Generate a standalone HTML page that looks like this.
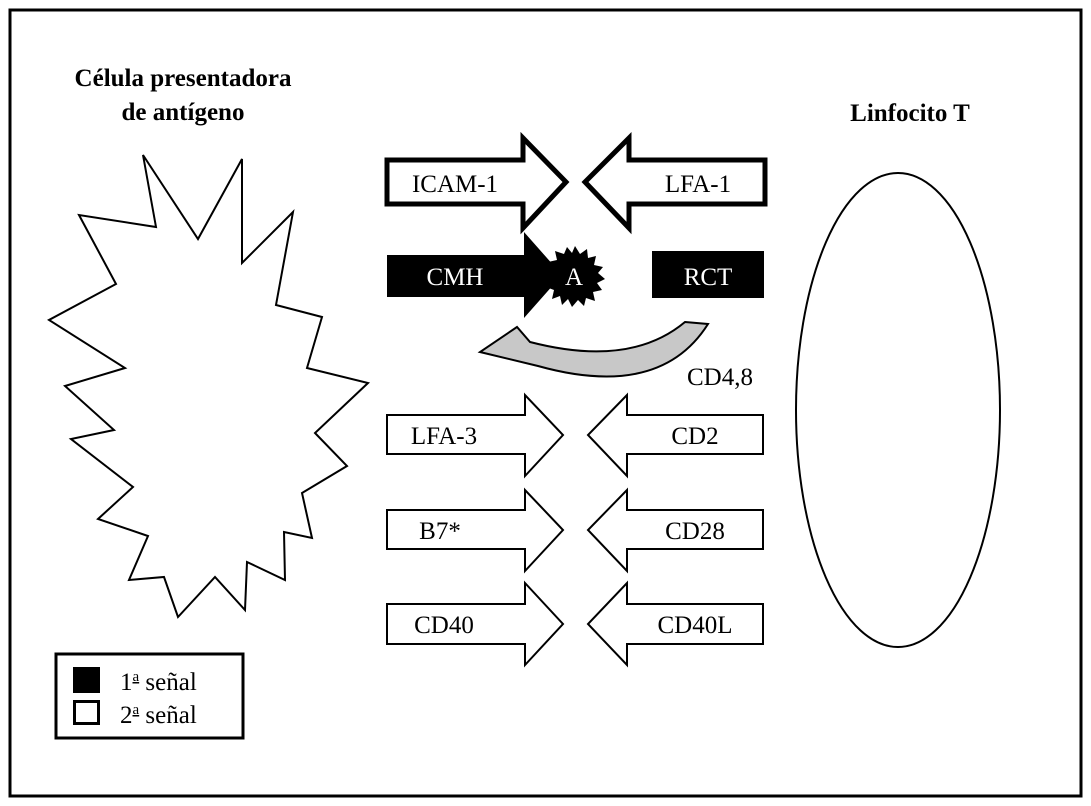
<!DOCTYPE html>
<html><head><meta charset="utf-8"><style>
html,body{margin:0;padding:0;background:#fff;}
svg{display:block;}
text{font-family:"Liberation Serif",serif;}
</style></head><body>
<svg width="1091" height="806" viewBox="0 0 1091 806" xmlns="http://www.w3.org/2000/svg">
<rect x="10" y="10" width="1071" height="786" fill="#fff" stroke="#000" stroke-width="3"/>
<text x="183" y="86" font-size="25" font-weight="bold" text-anchor="middle">Célula presentadora</text>
<text x="183" y="120" font-size="25" font-weight="bold" text-anchor="middle">de antígeno</text>
<text x="910" y="121" font-size="25" font-weight="bold" text-anchor="middle">Linfocito T</text>
<polygon fill="#fff" stroke="#000" stroke-width="2" points="143,155 156,227 79,215 116,284 49,320 125,368 65,386 114,430 71,439 133,487 98,519 148,536 129,580 164,577 178,617 215,577 245,610 247,562 285,580 284,532 312,538 302,493 347,466 315,433 368,383 307,368 322,317 276,305 293,212 242,263 242,159 198,239"/>
<ellipse cx="898" cy="410" rx="102" ry="237" fill="#fff" stroke="#000" stroke-width="2"/>
<!-- ICAM-1 -->
<polygon fill="#fff" stroke="#000" stroke-width="5" points="387,160 523,160 523,138 566,182 523,228 523,204 387,204"/>
<text x="455" y="192" font-size="25" text-anchor="middle">ICAM-1</text>
<polygon fill="#fff" stroke="#000" stroke-width="5" points="765,160 629,160 629,138 585,182 629,228 629,204 765,204"/>
<text x="698" y="192" font-size="25" text-anchor="middle">LFA-1</text>
<!-- CMH -->
<polygon fill="#000" points="387,255 524,255 524,232 562,275 524,318 524,297 387,297"/>
<text x="455" y="285" font-size="25" fill="#fff" text-anchor="middle">CMH</text>
<g transform="translate(575,276)">
<polygon fill="#000" id="st" points="0,-30 5,-22 12,-27 13,-18 21,-20 19,-11 28,-9 23,-3 30,3 22,7 27,14 18,16 20,25 11,22 9,30 3,24 -3,31 -7,23 -13,29 -15,20 -23,23 -21,14 -29,11 -23,4 -30,-2 -22,-7 -27,-14 -18,-16 -20,-25 -11,-22 -8,-29 -3,-23"/>
</g>
<text x="574" y="285" font-size="25" fill="#fff" text-anchor="middle">A</text>
<rect x="652" y="251" width="112" height="47" fill="#000"/>
<text x="708" y="285" font-size="25" fill="#fff" text-anchor="middle">RCT</text>
<!-- gray curved arrow -->
<path d="M685,322 L708,324 Q660,400 538,366 L480,352 L517,327 L530,342 Q630,368 685,322 Z" fill="#c8c8c8" stroke="#000" stroke-width="2"/>
<text x="720" y="385" font-size="25" text-anchor="middle">CD4,8</text>
<!-- second signal arrows -->
<g fill="#fff" stroke="#000" stroke-width="2">
<polygon points="387,415 525,415 525,395 563,435 525,476 525,454 387,454"/>
<polygon points="763,415 627,415 627,395 588,435 627,476 627,454 763,454"/>
<polygon points="387,510 525,510 525,490 563,530 525,571 525,549 387,549"/>
<polygon points="763,510 627,510 627,490 588,530 627,571 627,549 763,549"/>
<polygon points="387,604 525,604 525,583 563,624 525,665 525,644 387,644"/>
<polygon points="763,604 627,604 627,583 588,624 627,665 627,644 763,644"/>
</g>
<g font-size="25" text-anchor="middle">
<text x="444" y="444">LFA-3</text>
<text x="695" y="444">CD2</text>
<text x="440" y="539">B7*</text>
<text x="695" y="539">CD28</text>
<text x="444" y="633">CD40</text>
<text x="695" y="633">CD40L</text>
</g>
<!-- legend -->
<rect x="56" y="654" width="187" height="84" fill="#fff" stroke="#000" stroke-width="3"/>
<rect x="73" y="667" width="27" height="26" fill="#000"/>
<rect x="74.5" y="701.5" width="24" height="22" fill="#fff" stroke="#000" stroke-width="3"/>
<text x="120" y="690" font-size="25">1<tspan font-size="15" dy="-9" text-decoration="underline">a</tspan><tspan dy="9"> señal</tspan></text>
<text x="120" y="723" font-size="25">2<tspan font-size="15" dy="-9" text-decoration="underline">a</tspan><tspan dy="9"> señal</tspan></text>
</svg>
</body></html>
